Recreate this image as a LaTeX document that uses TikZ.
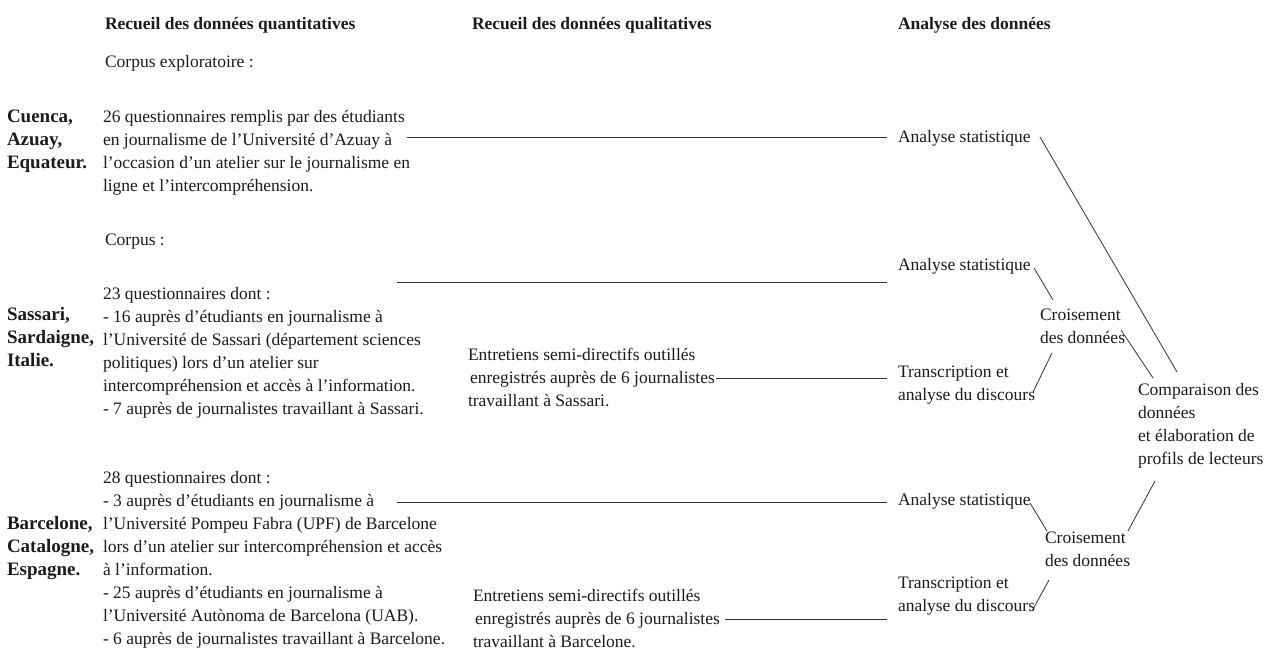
\documentclass[tikz,border=0pt]{standalone}
\usepackage{fontspec}
\setmainfont{Liberation Serif}
\definecolor{ink}{HTML}{1C1C1C}
\definecolor{rule}{HTML}{333333}
% left-aligned block whose baseline is that of its first line
\newcommand\blk[1]{\begin{tabular}[t]{@{}l@{}}#1\end{tabular}}
\begin{document}
\begin{tikzpicture}[x=1pt,y=-1pt,
  every node/.style={inner sep=0pt,outer sep=0pt,text=ink,
    font=\fontsize{17.5}{23}\selectfont},
  body/.style={anchor=base west},
  head/.style={anchor=base west,font=\fontsize{17.5}{23}\selectfont\bfseries},
  place/.style={anchor=base west,font=\fontsize{19}{23}\selectfont\bfseries},
  link/.style={draw=rule,line width=0.8pt}]
\useasboundingbox[fill=white] (0,0) rectangle (1274,655);

% column headings
\node[head] (hq) at (105,30) {Recueil des données quantitatives};
\node[head] (hl) at (472,30) {Recueil des données qualitatives};
\node[head] (ha) at (898,30) {Analyse des données};

% Cuenca
\node[body] (ce) at (105,68) {Corpus exploratoire :};
\node[place] (cuL) at (7,123) {\blk{Cuenca,\\Azuay,\\Equateur.}};
\node[body] (cu) at (103,123) {\blk{26 questionnaires remplis par des étudiants\\
  en journalisme de l'Université d'Azuay à\\
  l'occasion d'un atelier sur le journalisme en\\
  ligne et l'intercompréhension.}};

% Sassari
\node[body] (co) at (105,245) {Corpus :};
\node[place] (saL) at (7,320) {\blk{Sassari,\\Sardaigne,\\Italie.}};
\node[body] (sa) at (103,299) {\blk{23 questionnaires dont :\\
  - 16 auprès d'étudiants en journalisme à\\
  l'Université de Sassari (département sciences\\
  politiques) lors d'un atelier sur\\
  intercompréhension et accès à l'information.\\
  - 7 auprès de journalistes travaillant à Sassari.}};
\node[body] (enS) at (468,360) {\blk{Entretiens semi-directifs outillés\\
  \hspace{2pt}enregistrés auprès de 6 journalistes\\
  travaillant à Sassari.}};

% Barcelone
\node[place] (baL) at (7,529) {\blk{Barcelone,\\Catalogne,\\Espagne.}};
\node[body] (ba) at (103,483) {\blk{28 questionnaires dont :\\
  - 3 auprès d'étudiants en journalisme à\\
  l'Université Pompeu Fabra (UPF) de Barcelone\\
  lors d'un atelier sur intercompréhension et accès\\
  à l'information.\\
  - 25 auprès d'étudiants en journalisme à\\
  l'Université Autònoma de Barcelona (UAB).\\
  - 6 auprès de journalistes travaillant à Barcelone.}};
\node[body] (enB) at (473,601) {\blk{Entretiens semi-directifs outillés\\
  \hspace{2pt}enregistrés auprès de 6 journalistes\\
  travaillant à Barcelone.}};

% analysis column
\node[body] (as1) at (898,143) {Analyse statistique};
\node[body] (as2) at (898,270) {Analyse statistique};
\node[body] (tr1) at (898,377) {\blk{Transcription et\\analyse du discours}};
\node[body] (cr1) at (1040,320) {\blk{Croisement\\des données}};
\node[body] (cmp) at (1138,395) {\blk{Comparaison des\\données\\et élaboration de\\profils de lecteurs}};
\node[body] (as3) at (898,505) {Analyse statistique};
\node[body] (cr2) at (1045,543) {\blk{Croisement\\des données}};
\node[body] (tr2) at (898,588) {\blk{Transcription et\\analyse du discours}};

% connector end points
\coordinate (cuE) at (407,137);  \coordinate (as1W) at (887,137);
\coordinate (saE) at (397,282);  \coordinate (as2W) at (887,282);
\coordinate (enSE) at (716,378); \coordinate (tr1W) at (887,378);
\coordinate (baE) at (397,502);  \coordinate (as3W) at (887,502);
\coordinate (enBE) at (725,619); \coordinate (tr2W) at (887,619);
\coordinate (as1E) at (1040,137); \coordinate (cmpT) at (1177,372);
\coordinate (as2E) at (1034,268); \coordinate (cr1T) at (1053,300);
\coordinate (tr1E) at (1033,392); \coordinate (cr1B) at (1052,353);
\coordinate (cr1E) at (1121,330); \coordinate (cmpL) at (1153,378);
\coordinate (cmpB) at (1155,481); \coordinate (cr2E) at (1128,531);
\coordinate (as3E) at (1030,503); \coordinate (cr2T) at (1047,531);
\coordinate (tr2E) at (1032,611); \coordinate (cr2B) at (1049,580);

\draw[link] (cuE) -- (as1W);
\draw[link] (saE) -- (as2W);
\draw[link] (enSE) -- (tr1W);
\draw[link] (baE) -- (as3W);
\draw[link] (enBE) -- (tr2W);
\draw[link] (as1E) -- (cmpT);
\draw[link] (as2E) -- (cr1T);
\draw[link] (tr1E) -- (cr1B);
\draw[link] (cr1E) -- (cmpL);
\draw[link] (cmpB) -- (cr2E);
\draw[link] (as3E) -- (cr2T);
\draw[link] (tr2E) -- (cr2B);
\end{tikzpicture}
\end{document}
